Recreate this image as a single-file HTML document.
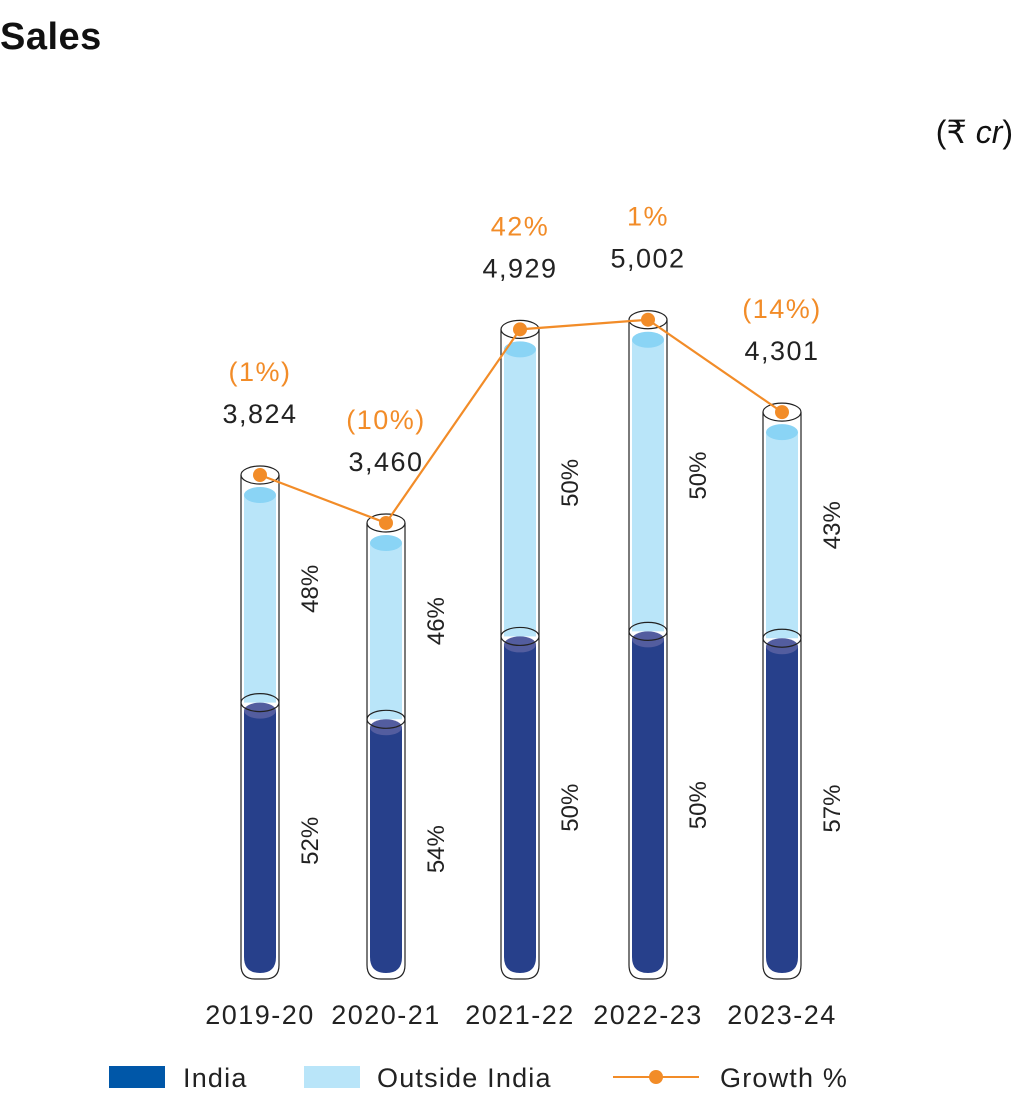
<!DOCTYPE html>
<html><head><meta charset="utf-8"><style>
body{margin:0;background:#fff;width:1016px;height:1100px;overflow:hidden;font-family:"Liberation Sans","DejaVu Sans",sans-serif}
</style></head><body>
<svg width="1016" height="1100" xmlns="http://www.w3.org/2000/svg">
<text x="0" y="49" font-size="38" font-weight="bold" fill="#111" letter-spacing="0.5">Sales</text>
<text x="1013" y="143" font-size="32" text-anchor="end" fill="#111">(₹ <tspan font-style="italic">cr</tspan>)</text>
<g id="plot"></g>
<g>
<rect x="109" y="1066" width="56" height="22" fill="#0057a8"/>
<text x="183" y="1087" font-size="27" letter-spacing="1.2" fill="#222">India</text>
<rect x="304" y="1066" width="56" height="22" fill="#b9e5f9"/>
<text x="377" y="1087" font-size="27" letter-spacing="1.2" fill="#222">Outside India</text>
<line x1="613" y1="1077" x2="699" y2="1077" stroke="#f28c28" stroke-width="2"/>
<circle cx="656" cy="1077" r="7" fill="#f28c28"/>
<text x="720" y="1087" font-size="27" letter-spacing="1.2" fill="#222">Growth %</text>
</g>
</svg>
<script>
const categories=["2019-20","2020-21","2021-22","2022-23","2023-24"];
const sales=[3824,3460,4929,5002,4301];
const indiaShare=[52,54,50,50,57];
const outsideShare=[48,46,50,50,43];
const growthLabels=["(1%)","(10%)","42%","1%","(14%)"];
const salesLabels=["3,824","3,460","4,929","5,002","4,301"];
const xs=[260,386,520,648,782];
const base=979, scale=0.1318, indiaScale=0.139;
const y=v=>base-v*scale;
const NS="http://www.w3.org/2000/svg";
const g=document.getElementById('plot');
function mk(t,a,p){const e=document.createElementNS(NS,t);for(const k in a)e.setAttribute(k,a[k]);(p||g).appendChild(e);return e;}
const pts=[];
categories.forEach((c,i)=>{
  const cx=xs[i], top=y(sales[i]);
  let split=base-(indiaShare[i]/100)*sales[i]*indiaScale;
  if(split<top+30) split=top+30;
  const grp=mk('g',{});
  
  
  const o=mk('path',{d:`M${cx-19},${top} L${cx-19},${base-14} Q${cx-19},${base} ${cx-5},${base} L${cx+5},${base} Q${cx+19},${base} ${cx+19},${base-14} L${cx+19},${top}`,fill:'#fff',stroke:'#222','stroke-width':1.2},grp);
  
  
  const ob=mk('rect',{x:cx-16,y:top+20,width:32,height:split-top-20,fill:'#b9e5f9'},grp);
  
  
  mk('ellipse',{cx:cx,cy:top+20,rx:16,ry:8,fill:'#8ad4f5'},grp);
  const ib=mk('path',{d:`M${cx-16},${split+8} L${cx-16},${base-22} Q${cx-16},${base-6} ${cx},${base-6} Q${cx+16},${base-6} ${cx+16},${base-22} L${cx+16},${split+8}Z`,fill:'#27408b'},grp);
  
  
  mk('ellipse',{cx:cx,cy:split+8,rx:16,ry:8,fill:'#535d9f'},grp);
  mk('ellipse',{cx:cx,cy:split,rx:19,ry:9,fill:'none',stroke:'#222','stroke-width':1.2},grp);
  mk('ellipse',{cx:cx,cy:top,rx:19,ry:9,fill:'#fff','fill-opacity':0.3,stroke:'#222','stroke-width':1.2},grp);
  const t1=mk('text',{x:cx,y:top-52,'font-size':27,'letter-spacing':1.5,'text-anchor':'middle',fill:'#222'});t1.textContent=salesLabels[i];
  
  
  const t2=mk('text',{x:cx,y:top-94,'font-size':27,'letter-spacing':1.5,'text-anchor':'middle',fill:'#f28c28'});t2.textContent=growthLabels[i];
  
  
  const my1=(top+split)/2, my2=(split+base)/2;
  const t3=mk('text',{x:0,y:0,'font-size':24,'text-anchor':'middle',fill:'#222',transform:`translate(${cx+58},${my1}) rotate(-90)`});t3.textContent=outsideShare[i]+'%';
  
  
  const t4=mk('text',{x:0,y:0,'font-size':24,'text-anchor':'middle',fill:'#222',transform:`translate(${cx+58},${my2}) rotate(-90)`});t4.textContent=indiaShare[i]+'%';
  
  
  const t5=mk('text',{x:cx,y:1024,'font-size':27,'letter-spacing':1.5,'text-anchor':'middle',fill:'#222'});t5.textContent=c;
  
  
  pts.push([cx,top]);
});
const line=mk('polyline',{points:pts.map(p=>p.join(',')).join(' '),fill:'none',stroke:'#f28c28','stroke-width':2.2});


pts.forEach((p,i)=>{const d=mk('circle',{cx:p[0],cy:p[1],r:7,fill:'#f28c28'});
  
  });
</script>
</body></html>
